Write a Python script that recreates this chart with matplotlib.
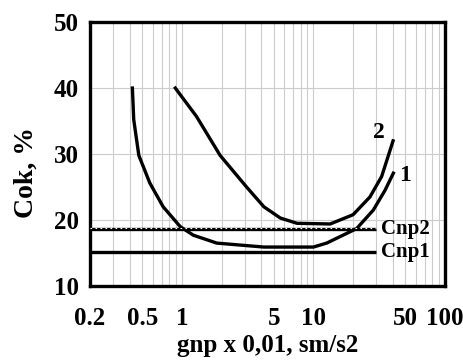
import numpy as np
import matplotlib.pyplot as plt
from matplotlib.ticker import FixedLocator, FixedFormatter, LogLocator, NullFormatter

plt.rcParams['font.family'] = ['Liberation Serif', 'DejaVu Serif']
plt.rcParams['font.weight'] = 'bold'

# curve 1
g1 = [0.42, 0.43, 0.47, 0.57, 0.72, 0.97, 1.22, 1.84, 4.2, 10.0, 12.6, 21.3, 28.5, 35, 40.5]
c1 = [40.0, 35.2, 29.8, 25.6, 22.0, 19.0, 17.7, 16.5, 15.9, 15.9, 16.5, 18.7, 21.5, 24.5, 27.1]
# curve 2
g2 = [0.89, 1.29, 1.95, 3.1, 4.2, 5.6, 7.5, 13.4, 20.0, 26.9, 33.0, 40.3]
c2 = [40.0, 35.7, 29.8, 25.0, 22.0, 20.3, 19.5, 19.4, 20.8, 23.5, 26.6, 32.0]
# limits
cnp1 = 15.2
cnp2 = 18.6
cnp_end = 30

xticks = [0.2, 0.5, 1, 5, 10, 50, 100]
xticklabels = ['0.2', '0.5', '1', '5', '10', '50', '100']
yticks = [10, 20, 30, 40, 50]

fig = plt.figure(figsize=(4.64, 3.62), dpi=100)
ax = fig.add_axes([0.194, 0.21, 0.765, 0.729])

ax.set_xscale('log')
ax.set_xlim(0.2, 100)
ax.set_ylim(10, 50)

ax.plot(g1, c1, color='black', lw=2.4, zorder=3)
ax.plot(g2, c2, color='black', lw=2.4, zorder=3)
ax.plot([0.2, cnp_end], [cnp1, cnp1], color='black', lw=2.4, zorder=3, solid_capstyle='butt')
ax.plot([0.2, cnp_end], [cnp2, cnp2], color='black', lw=2.4, zorder=3, solid_capstyle='butt')
ax.plot([0.2, cnp_end], [cnp2 + 0.12, cnp2 + 0.12], color='white', lw=0.8, ls=(0, (1.5, 3)), zorder=4)

ax.text(31.5, 33.2, '2', fontsize=17, fontweight='bold', ha='center', va='center')
ax.text(50, 26.8, '1', fontsize=17, fontweight='bold', ha='center', va='center')
ax.text(32.5, cnp2, 'Cnp2', fontsize=15, fontweight='bold', ha='left', va='center')
ax.text(32.5, cnp1, 'Cnp1', fontsize=15, fontweight='bold', ha='left', va='center')

ax.xaxis.set_major_locator(FixedLocator(xticks))
ax.xaxis.set_major_formatter(FixedFormatter(xticklabels))
ax.xaxis.set_minor_locator(LogLocator(base=10, subs=np.arange(1, 10)))
ax.xaxis.set_minor_formatter(NullFormatter())
ax.set_yticks(yticks)

ax.tick_params(axis='both', which='both', length=0, labelsize=18)
ax.tick_params(axis='x', pad=15)
ax.tick_params(axis='y', pad=8)
for lab in ax.get_xticklabels() + ax.get_yticklabels():
    lab.set_fontweight('bold')

ax.grid(True, which='both', axis='x', color='#cccccc', lw=0.8)
ax.grid(True, which='major', axis='y', color='#cccccc', lw=0.8)
ax.set_axisbelow(True)

for s in ax.spines.values():
    s.set_linewidth(2.4)

ax.set_xlabel('gnp x 0,01, sm/s2', fontsize=18, fontweight='bold', labelpad=3)
ax.set_ylabel('Cok, %', fontsize=20, fontweight='bold')
ax.yaxis.set_label_coords(-0.145, 0.43)

fig.savefig('out.png', dpi=100)
